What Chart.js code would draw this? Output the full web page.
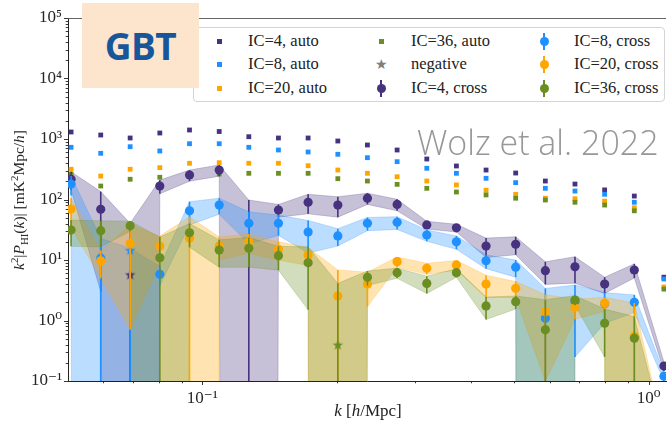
<!DOCTYPE html>
<html><head><meta charset="utf-8">
<script src="https://cdn.jsdelivr.net/npm/chart.js@4.4.1/dist/chart.umd.min.js"></script>
<style>
html,body{margin:0;padding:0;background:#fff;}
#wrap{position:relative;width:671px;height:422px;overflow:hidden;font-family:"Liberation Serif","DejaVu Serif",serif;color:#222;}
#c{position:absolute;left:0;top:0;}
.gbt{position:absolute;left:82px;top:3px;width:117px;height:85px;background:#fce4cd;color:#17569b;font:700 37px "Open Sans",sans-serif;display:flex;align-items:center;justify-content:center;letter-spacing:-0.5px;}
.wolz{position:absolute;left:417px;top:119px;font:300 34px "Open Sans",sans-serif;color:#979797;white-space:nowrap;}
.legend{position:absolute;left:193px;top:27px;width:470px;height:73px;border:1px solid #d4d4d4;border-radius:4px;background:#fff;}
.lt{position:absolute;font-size:16.5px;white-space:nowrap;line-height:18px;}
.sq{position:absolute;width:5px;height:5px;}
.bar{position:absolute;width:2px;height:17px;}
.dot{position:absolute;width:9px;height:9px;border-radius:50%;}
.star{position:absolute;font:14px "DejaVu Sans",sans-serif;color:#7f7f7f;line-height:14px;}
.ytitle{position:absolute;left:19px;top:200px;transform:translate(-50%,-50%) rotate(-90deg);white-space:nowrap;font-size:15.5px;}
.xtitle{position:absolute;left:368px;top:411px;transform:translate(-50%,-50%);white-space:nowrap;font-size:17px;}
sup,sub{font-size:70%;line-height:0;}
</style></head>
<body>
<div id="wrap">
<canvas id="c" width="671" height="422"></canvas>
<div class="legend" id="legend"></div>
<div class="gbt">GBT</div>
<div class="wolz">Wolz et al. 2022</div>
<div class="ytitle"><i>k</i><sup>2</sup>|<i>P</i><sub>HI</sub>(<i>k</i>)| [mK<sup>2</sup>Mpc/<i>h</i>]</div>
<div class="xtitle"><i>k</i> [<i>h</i>/Mpc]</div>
</div>
<script>
// ---------------- data ----------------
const kBins = [0.0508,0.0592,0.0689,0.0803,0.0936,0.1091,0.1271,0.1481,0.1726,0.2012,0.2344,0.2732,0.3184,0.3710,0.4323,0.5037,0.5870,0.6840,0.7971,0.9290,1.0824];

const autoIC4  = [1306,1164,1039,1256,1409,1330,1091,1039,1039,926,796,658,467,358,307,274,202,180,144,114,5.2];
const autoIC8  = [729,580,746,634,836,836,729,658,610,559,491,422,328,271,224,190,153,138,122,90,4.85];
const autoIC20 = [316,244,316,336,397,406,397,397,362,307,271,238,202,174,142,122,105,103,94,73,3.58];
const autoIC36 = [261,167,216,233,264,264,271,271,271,221,202,178,153,133,119,105,98,90,81,65,3.3];

// cross spectra (signed: negative values are drawn as |P| with a star)
const crossIC4  = [216,69,-5.65,167,254,307,-0.05,67,90,81,105,83,38,34,17,18.2,6.65,7.74,4.0,6.84,0.177];
const errIC4    = [72,66,46,43,53,65,98,16,32,30,22,18,5.5,5,6,6,2.7,3.6,1.2,1.8,0.03];
const crossIC8  = [180,10.7,-14.3,5.8,65,81,40.5,40.5,29,25,40.5,42,25.9,20,9.7,7.6,1.09,2.06,1.9,2.0,0.12];
const errIC8    = [64,12,30,2,27,24,22,15,16,8,10,10,5.5,5,2.5,2.4,2.3,1.81,1.0,0.65,0.02];
const crossIC20 = [69.7,9.7,18.9,17,22.9,17,20,15,12.1,2.54,4.0,9.4,7.3,8.3,4.0,3.4,1.39,1.65,1.92,0.55,0.006];
const errIC20   = [35,4.7,18.2,8,29,7,7,5,4,4.3,2.3,1.8,1.5,1.5,1.6,1.0,1.29,0.6,0.5,1.4,0.008];
const crossIC36 = [31.3,30.5,36.9,10.9,28.2,14.6,15.6,11.8,9,-0.39,5.18,6.17,4.1,6.17,1.74,2.05,0.70,2.18,0.9,0.51,0.005];
const errIC36   = [14.5,14,7,13,12,7,8,5,7.5,4.5,1.4,1.2,1.3,1.0,0.7,0.5,1.5,0.4,0.65,0.65,0.009];

const yDecades = [0.1,1,10,100,1000,10000,100000];
const yTickLabels = ['10\u207B\u00B9','10\u2070','10\u00B9','10\u00B2','10\u00B3','10\u2074','10\u2075'];
const xDecades = [0.1,1];
const xTickLabels = ['10\u207B\u00B9','10\u2070'];
const xMinorTicks = [0.06,0.07,0.08,0.09,0.2,0.3,0.4,0.5,0.6,0.7,0.8,0.9];

const legendLabels = [['IC=4, auto','IC=8, auto','IC=20, auto'],['IC=36, auto','negative','IC=4, cross'],['IC=8, cross','IC=20, cross','IC=36, cross']];

// ---------------- styling ----------------
const C4='#46327e', C8='#1e90ff', C20='#ffa500', C36='#6b8e23';
const TINY = 1e-200;
function rgba(hex,a){const n=parseInt(hex.slice(1),16);return 'rgba('+(n>>16&255)+','+(n>>8&255)+','+(n&255)+','+a+')';}
function starCanvas(color,r){
  const c=document.createElement('canvas'); const s=Math.ceil(r*2+2); c.width=s;c.height=s;
  const g=c.getContext('2d'); g.fillStyle=color; g.beginPath();
  for(let i=0;i<10;i++){const rad=i%2?r*0.42:r;const ang=-Math.PI/2+i*Math.PI/5;const px=s/2+rad*Math.cos(ang),py=s/2+rad*Math.sin(ang);if(i)g.lineTo(px,py);else g.moveTo(px,py);}
  g.closePath(); g.fill(); return c;
}

const crossSeries = [
  {color:C4, vals:crossIC4, errs:errIC4},
  {color:C8, vals:crossIC8, errs:errIC8},
  {color:C20, vals:crossIC20, errs:errIC20},
  {color:C36, vals:crossIC36, errs:errIC36}
];
const autoSeries = [
  {color:C4, vals:autoIC4},{color:C8, vals:autoIC8},{color:C20, vals:autoIC20},{color:C36, vals:autoIC36}
];

const datasets=[];
function add(ds){ ds.order = 1000 - datasets.length; datasets.push(ds); }
const BA = 0.3;
crossSeries.forEach(s=>{
  add({type:'line', data:kBins.map((k,i)=>({x:k,y:Math.max(s.vals[i]-s.errs[i],TINY)})),
       borderColor:rgba(s.color,BA), borderWidth:0.8, pointRadius:0, fill:false, tension:0});
  add({type:'line', data:kBins.map((k,i)=>({x:k,y:Math.max(s.vals[i]+s.errs[i],TINY)})),
       borderColor:rgba(s.color,BA), borderWidth:0.8, pointRadius:0, fill:'-1', backgroundColor:rgba(s.color,BA), tension:0});
});
autoSeries.forEach(a=>{
  add({type:'scatter', data:kBins.map((k,i)=>({x:k,y:a.vals[i]})), pointStyle:'rect', pointRadius:3.4,
       pointBackgroundColor:a.color, pointBorderWidth:0});
});
crossSeries.forEach(s=>{
  add({type:'scatter', data:kBins.map((k,i)=>({x:k,y:s.vals[i]})).filter(d=>d.y>0), pointStyle:'circle', pointRadius:4.6,
       pointBackgroundColor:s.color, pointBorderWidth:0, errInfo:s});
  add({type:'scatter', data:kBins.map((k,i)=>({x:k,y:-s.vals[i]})).filter(d=>d.y>0), pointStyle:starCanvas(s.color,5.5), pointRadius:5,
       pointBackgroundColor:s.color, pointBorderWidth:0});
});

const errPlugin = {
  id:'errbars',
  beforeDatasetDraw(chart,args){
    const ds = chart.data.datasets[args.index];
    if(!ds.errInfo) return;
    const s = ds.errInfo, ctx=chart.ctx, a=chart.chartArea, xs=chart.scales.x, ys=chart.scales.y;
    ctx.save(); ctx.beginPath(); ctx.rect(a.left,a.top,a.right-a.left,a.bottom-a.top); ctx.clip();
    ctx.strokeStyle=s.color; ctx.lineWidth=1.6;
    kBins.forEach((k,i)=>{
      const lo=s.vals[i]-s.errs[i], hi=s.vals[i]+s.errs[i];
      const x=xs.getPixelForValue(k);
      const y1 = lo>0 ? ys.getPixelForValue(lo) : a.bottom+5;
      const y2 = hi>0 ? ys.getPixelForValue(hi) : a.bottom+5;
      ctx.beginPath(); ctx.moveTo(x,y1); ctx.lineTo(x,y2); ctx.stroke();
    });
    ctx.restore();
  },
  afterDraw(chart){
    const ctx=chart.ctx, a=chart.chartArea, xs=chart.scales.x, ys=chart.scales.y;
    ctx.save(); ctx.strokeStyle='#222'; ctx.lineWidth=0.9;
    const seg=(x1,y1,x2,y2)=>{ctx.beginPath();ctx.moveTo(x1,y1);ctx.lineTo(x2,y2);ctx.stroke();};
    xDecades.forEach(v=>{const p=Math.round(xs.getPixelForValue(v))+0.5; seg(p,a.bottom,p,a.bottom+4);});
    xMinorTicks.forEach(v=>{const p=Math.round(xs.getPixelForValue(v))+0.5; seg(p,a.bottom,p,a.bottom+2.3);});
    yDecades.forEach(v=>{const p=Math.round(ys.getPixelForValue(v))+0.5; seg(a.left,p,a.left-4,p);
      if(v<100000){for(let m=2;m<10;m++){const q=Math.round(ys.getPixelForValue(v*m))+0.5; seg(a.left,q,a.left-2.3,q);}}});
    ctx.strokeStyle='#555'; seg(a.left,a.top+0.5,a.right,a.top+0.5);
    ctx.restore();
  }
};

function labelFor(v, dec, labs){ for(let i=0;i<dec.length;i++){ if(Math.abs(Math.log10(v)-Math.log10(dec[i]))<1e-6) return labs[i]; } return ''; }
const tickFont = {family:"'Liberation Serif','DejaVu Serif',serif", size:17};

new Chart(document.getElementById('c'), {
  type:'line',
  data:{datasets},
  plugins:[errPlugin],
  options:{
    responsive:false, animation:false, devicePixelRatio:1, events:[],
    layout:{padding:{top:18,left:0,right:0,bottom:0}},
    plugins:{legend:{display:false}, tooltip:{enabled:false}},
    scales:{
      x:{type:'logarithmic', min:0.05, max:1.094, bounds:'data',
         afterBuildTicks:s=>{s.ticks=xDecades.map(v=>({value:v,major:true}));},
         afterFit:s=>{s.height=41;},
         grid:{display:true, drawOnChartArea:false, drawTicks:true, tickLength:4, color:'rgba(0,0,0,0)'},
         border:{display:true, color:'#222', width:1},
         ticks:{autoSkip:false, maxRotation:0, minRotation:0, padding:3, font:tickFont, color:'#262626',
                callback:v=>labelFor(v,xDecades,xTickLabels)}},
      y:{type:'logarithmic', min:0.1, max:100000, bounds:'data',
         afterBuildTicks:s=>{s.ticks=yDecades.map(v=>({value:v,major:true}));},
         afterFit:s=>{s.width=68;},
         grid:{display:true, drawOnChartArea:false, drawTicks:true, tickLength:4, color:'rgba(0,0,0,0)'},
         border:{display:true, color:'#222', width:1},
         ticks:{autoSkip:false, padding:2, font:tickFont, color:'#262626',
                callback:v=>labelFor(v,yDecades,yTickLabels)}}
    }
  }
});

// ---------------- legend ----------------
(function(){
  const L=document.getElementById('legend');
  const rowY=[13,36,60], markX=[25,187,350], textX=[54,217,380];
  const kinds=[[['sq',C4],['sq',C8],['sq',C20]],[['sq',C36],['star','#7f7f7f'],['eb',C4]],[['eb',C8],['eb',C20],['eb',C36]]];
  for(let c=0;c<3;c++) for(let r=0;r<3;r++){
    const [kind,col]=kinds[c][r]; const cx=markX[c], cy=rowY[r];
    if(kind==='sq'){const d=document.createElement('div');d.className='sq';d.style.background=col;d.style.left=(cx-2.5)+'px';d.style.top=(cy-2.5)+'px';L.appendChild(d);}
    else if(kind==='star'){const d=document.createElement('div');d.className='star';d.textContent='\u2605';d.style.left=(cx-6)+'px';d.style.top=(cy-7)+'px';L.appendChild(d);}
    else {const b=document.createElement('div');b.className='bar';b.style.background=col;b.style.left=(cx-1)+'px';b.style.top=(cy-8.5)+'px';L.appendChild(b);
          const d=document.createElement('div');d.className='dot';d.style.background=col;d.style.left=(cx-4.5)+'px';d.style.top=(cy-4.5)+'px';L.appendChild(d);}
    const t=document.createElement('div');t.className='lt';t.textContent=legendLabels[c][r];t.style.left=textX[c]+'px';t.style.top=(cy-9)+'px';L.appendChild(t);
  }
})();
</script>
</body></html>
